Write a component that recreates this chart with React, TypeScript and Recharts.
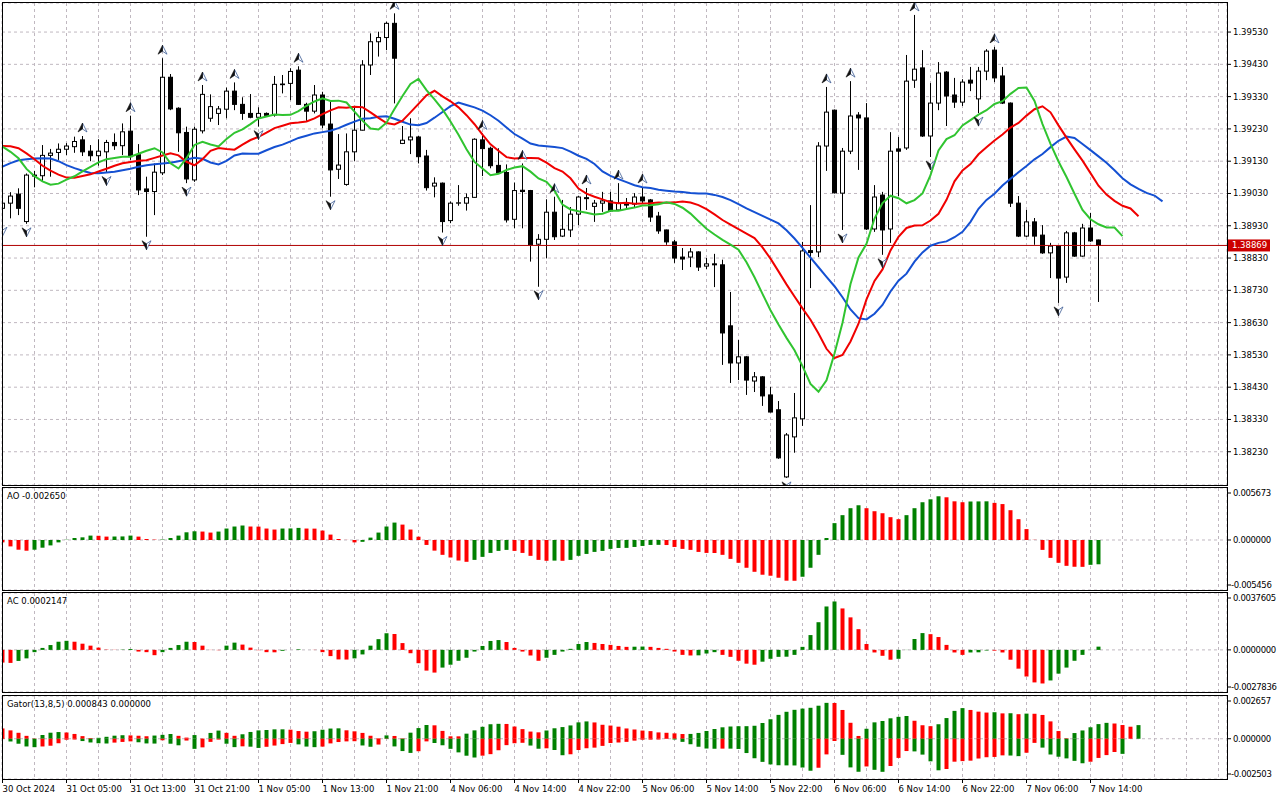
import { Bar, CartesianGrid, Cell, ComposedChart, Line, ReferenceLine, Scatter, XAxis, YAxis } from "recharts";

// H1 candles, bar 0 = 30 Oct 2024 21:00
const OPEN = [
  1.38984, 1.39, 1.39028, 1.38943, 1.39087, 1.39085, 1.39148, 1.39157, 1.39167, 1.39175,
  1.39196, 1.39161, 1.39147, 1.39159, 1.39188, 1.39178, 1.39223, 1.3915, 1.39044, 1.39036,
  1.39094, 1.3939, 1.39294, 1.39219, 1.39072, 1.39224, 1.39263, 1.39278, 1.39291, 1.39347,
  1.39306, 1.39278, 1.39266, 1.39278, 1.39273, 1.39369, 1.39371, 1.39412, 1.39306, 1.39285,
  1.39335, 1.39245, 1.39105, 1.39058, 1.39159, 1.39226, 1.39428, 1.395, 1.39513, 1.39557,
  1.39185, 1.39196, 1.39205, 1.39146, 1.39053, 1.39062, 1.38946, 1.39, 1.39, 1.39018,
  1.39196, 1.3917, 1.39117, 1.39095, 1.3895, 1.3904, 1.39039, 1.38873, 1.38888, 1.38972,
  1.38898, 1.38917, 1.38966, 1.39017, 1.3899, 1.39, 1.39007, 1.38979, 1.39, 1.38997,
  1.39019, 1.3901, 1.3896, 1.38917, 1.3888, 1.38833, 1.38833, 1.38849, 1.38805, 1.38812,
  1.38809, 1.3862, 1.38505, 1.38524, 1.38449, 1.38462, 1.38406, 1.3836, 1.38152, 1.38276,
  1.38332, 1.38853, 1.38849, 1.39177, 1.39288, 1.39031, 1.39161, 1.39273, 1.39264, 1.3892,
  1.39025, 1.3892, 1.39168, 1.39171, 1.39381, 1.39419, 1.39208, 1.3931, 1.39406, 1.39335,
  1.39313, 1.39381, 1.39323, 1.39409, 1.39474, 1.39394, 1.3931, 1.39, 1.38898, 1.38942,
  1.38901, 1.38846, 1.38867, 1.38771, 1.38908, 1.38836, 1.38923, 1.38886,
];
const HIGH = [
  1.3901, 1.39034, 1.39046, 1.39092, 1.391, 1.3918, 1.39168, 1.39185, 1.39186, 1.39206,
  1.39208, 1.3918, 1.39198, 1.39196, 1.39216, 1.39247, 1.39271, 1.39183, 1.39082, 1.39123,
  1.39449, 1.394, 1.39297, 1.39237, 1.39237, 1.39366, 1.39337, 1.39301, 1.39358, 1.39374,
  1.39328, 1.39338, 1.39297, 1.39281, 1.39394, 1.39397, 1.39418, 1.39424, 1.39311, 1.39366,
  1.39345, 1.39319, 1.39214, 1.39216, 1.393, 1.39443, 1.39526, 1.39531, 1.39562, 1.39588,
  1.39239, 1.39263, 1.39208, 1.39165, 1.3908, 1.39064, 1.39005, 1.39056, 1.3903, 1.39201,
  1.39216, 1.39175, 1.3917, 1.3912, 1.39064, 1.39123, 1.39041, 1.38904, 1.39012, 1.3902,
  1.3901, 1.38988, 1.39022, 1.39047, 1.3901, 1.39035, 1.39035, 1.39062, 1.39016, 1.39031,
  1.3905, 1.39013, 1.38973, 1.38918, 1.38886, 1.38861, 1.38861, 1.38851, 1.3883, 1.38843,
  1.38825, 1.38725, 1.38576, 1.38526, 1.38477, 1.38464, 1.38431, 1.38387, 1.38288, 1.38412,
  1.3888, 1.38994, 1.39189, 1.3936, 1.3929, 1.39171, 1.39378, 1.39282, 1.3931, 1.39056,
  1.39035, 1.3922, 1.39205, 1.39459, 1.39583, 1.39474, 1.39372, 1.39437, 1.39409, 1.39388,
  1.39384, 1.39422, 1.39422, 1.39477, 1.39484, 1.39422, 1.39312, 1.39022, 1.38979, 1.38954,
  1.38932, 1.38877, 1.38869, 1.38914, 1.38911, 1.38936, 1.3897, 1.38887,
];
const LOW = [
  1.38938, 1.38953, 1.38963, 1.38936, 1.39049, 1.39066, 1.39082, 1.39134, 1.39149, 1.39156,
  1.39146, 1.3913, 1.39116, 1.39095, 1.39165, 1.39149, 1.39134, 1.39025, 1.38896, 1.38963,
  1.39087, 1.39288, 1.39159, 1.39062, 1.39066, 1.39216, 1.39252, 1.39242, 1.39263, 1.39288,
  1.39258, 1.39263, 1.39237, 1.39268, 1.39268, 1.3934, 1.39319, 1.39304, 1.39255, 1.39278,
  1.39232, 1.3902, 1.39075, 1.39054, 1.39131, 1.39225, 1.39397, 1.39454, 1.39474, 1.39309,
  1.39183, 1.39152, 1.39123, 1.39039, 1.39018, 1.38909, 1.38938, 1.38992, 1.38977, 1.39017,
  1.39084, 1.39108, 1.39092, 1.3894, 1.38922, 1.38922, 1.38819, 1.38741, 1.38829, 1.38886,
  1.38895, 1.38895, 1.38932, 1.38979, 1.38942, 1.38973, 1.38973, 1.38976, 1.3898, 1.38988,
  1.39, 1.38942, 1.38905, 1.38871, 1.38815, 1.38793, 1.38802, 1.3879, 1.38796, 1.3874,
  1.38499, 1.38443, 1.38452, 1.38406, 1.38415, 1.38372, 1.38352, 1.38208, 1.38149, 1.38227,
  1.3831, 1.38737, 1.38833, 1.391, 1.3903, 1.38917, 1.39152, 1.39103, 1.38917, 1.38911,
  1.3884, 1.38877, 1.39022, 1.39165, 1.39357, 1.39205, 1.39143, 1.39288, 1.39239, 1.39295,
  1.39301, 1.39347, 1.39279, 1.39381, 1.39375, 1.39307, 1.38988, 1.38895, 1.38895, 1.38871,
  1.38843, 1.38768, 1.38691, 1.38753, 1.38834, 1.38834, 1.3888, 1.38694,
];
const CLOSE = [
  1.39, 1.39022, 1.38984, 1.39087, 1.39084, 1.39148, 1.39155, 1.39167, 1.39177, 1.39191,
  1.39159, 1.39147, 1.39161, 1.39188, 1.39178, 1.39221, 1.39144, 1.39041, 1.39036, 1.39096,
  1.3939, 1.39292, 1.39218, 1.39075, 1.39229, 1.39337, 1.39299, 1.39292, 1.39347, 1.39306,
  1.39278, 1.39266, 1.39278, 1.39272, 1.39368, 1.39367, 1.39408, 1.39306, 1.39285, 1.39335,
  1.39242, 1.39103, 1.39118, 1.39159, 1.39226, 1.39428, 1.395, 1.39513, 1.39557, 1.39449,
  1.39195, 1.39205, 1.39144, 1.39048, 1.39062, 1.38943, 1.39, 1.39001, 1.39017, 1.39198,
  1.39169, 1.39116, 1.39094, 1.38948, 1.39039, 1.39036, 1.38871, 1.38888, 1.38972, 1.38896,
  1.38919, 1.38966, 1.39019, 1.39014, 1.39, 1.39007, 1.38976, 1.39, 1.38994, 1.39019,
  1.39007, 1.38957, 1.38914, 1.3888, 1.3883, 1.38827, 1.38849, 1.38802, 1.38812, 1.38809,
  1.38598, 1.38505, 1.38524, 1.38452, 1.38462, 1.38403, 1.38353, 1.38211, 1.38282, 1.38335,
  1.38852, 1.38847, 1.39177, 1.39282, 1.39032, 1.39161, 1.3927, 1.39264, 1.3892, 1.39019,
  1.38917, 1.39161, 1.39161, 1.39378, 1.39415, 1.39208, 1.3931, 1.39403, 1.39332, 1.39313,
  1.39375, 1.39372, 1.39409, 1.39471, 1.39388, 1.3931, 1.39, 1.38898, 1.38942, 1.38898,
  1.38846, 1.38867, 1.38768, 1.38908, 1.38836, 1.38923, 1.38883, 1.38869,
];

// Awesome Oscillator, read per bar
const AO = [
  -0.00026, -0.0007, -0.00106, -0.00117, -0.00106, -0.00084, -0.00059, -0.00026, 0.00003, 0.00022,
  0.00029, 0.00048, 0.00046, 0.00037, 0.00038, 0.00039, 0.00048, 0.00037, 0.00011, 0.00004,
  0.00005, 0.00022, 0.00048, 0.00084, 0.00095, 0.00092, 0.00081, 0.00092, 0.00125, 0.00147,
  0.00158, 0.00147, 0.00146, 0.00125, 0.00114, 0.00125, 0.00126, 0.00132, 0.00125, 0.00124,
  0.00103, 0.00059, 0.00011, 0.00001, -0.00026, -0.0002, 0.00026, 0.00081, 0.00147, 0.0019,
  0.00168, 0.00114, 0.00036, -0.00054, -0.00116, -0.00162, -0.00191, -0.00224, -0.00238, -0.00217,
  -0.00184, -0.00141, -0.00119, -0.00108, -0.00119, -0.00141, -0.00173, -0.00217, -0.00227, -0.00225,
  -0.00227, -0.00217, -0.00173, -0.00152, -0.0013, -0.00119, -0.00097, -0.00087, -0.00086, -0.00076,
  -0.00065, -0.00054, -0.00053, -0.00055, -0.00076, -0.00097, -0.00108, -0.0013, -0.00141, -0.00142,
  -0.00162, -0.00206, -0.00249, -0.00303, -0.00347, -0.00379, -0.0039, -0.00412, -0.00444, -0.00445,
  -0.00401, -0.00303, -0.00162, 0.00022, 0.00184, 0.00271, 0.00347, 0.00379, 0.00347, 0.00314,
  0.00292, 0.00249, 0.00227, 0.00271, 0.00347, 0.00412, 0.00444, 0.00477, 0.00466, 0.00422,
  0.00412, 0.0042, 0.00421, 0.00422, 0.00405, 0.00392, 0.00325, 0.00227, 0.00119, 0.00002,
  -0.00108, -0.00195, -0.00249, -0.00282, -0.00292, -0.00293, -0.00271, -0.00265,
];

// Accelerator Oscillator, read per bar
const AC = [
  -0.00084, -0.00086, -0.00073, -0.00056, -0.00015, 0.00013, 0.00032, 0.00054, 0.0006, 0.00054,
  0.00041, 0.00028, 0.00015, 0.00002, 0.00001, 0.00002, 0.00006, -0.00011, -0.00015, -0.00035,
  -0.00015, 0.00013, 0.00032, 0.00054, 0.00052, 0.00028, -0.00001, -0.00002, 0.00028, 0.00048,
  0.00035, 0.00015, -0.00002, -0.00015, -0.00016, -0.00006, 0.0, 0.00004, 0.0, -0.00001,
  -0.00015, -0.00041, -0.00063, -0.00064, -0.00056, -0.0003, 0.00028, 0.00071, 0.0011, 0.00105,
  0.00045, -0.00022, -0.00088, -0.00137, -0.0015, -0.00117, -0.00098, -0.00072, -0.00052, -0.00011,
  0.00026, 0.00059, 0.00065, 0.00052, 0.00013, -0.00011, -0.00037, -0.00072, -0.00052, -0.00033,
  -0.00011, 0.00007, 0.00039, 0.00052, 0.00046, 0.00039, 0.00033, 0.00026, 0.0002, 0.00021,
  0.00022, 0.0002, 0.00013, 0.00007, -0.00011, -0.00033, -0.00037, -0.00036, -0.00024, -0.00015,
  -0.00033, -0.00046, -0.00072, -0.00091, -0.00098, -0.00078, -0.00059, -0.00046, -0.00045, -0.00033,
  0.0002, 0.00098, 0.00183, 0.00287, 0.0032, 0.00274, 0.00215, 0.00137, 0.00039, -0.00017,
  -0.00039, -0.00065, -0.00059, -0.00001, 0.00072, 0.00111, 0.00104, 0.00085, 0.00033, -0.00017,
  -0.00033, -0.00017, -0.00016, -0.00004, -0.00005, -0.00017, -0.00065, -0.00124, -0.00176, -0.00215,
  -0.00222, -0.00202, -0.00157, -0.00117, -0.00072, -0.00033, -0.00001, 0.0002147,
];

// Alligator values already on screen before bar 0 (jaw shift 8, teeth 5, lips 3)
const JAW_LEAD = [1.39113, 1.39124, 1.39133, 1.39136, 1.39138, 1.39139, 1.39138, 1.3913];
const TEETH_LEAD = [1.39177, 1.39176, 1.3917, 1.39154, 1.39136];
const LIPS_LEAD = [1.39175, 1.39159, 1.39139];

const TIME_LABELS = [
  "30 Oct 2024", "31 Oct 05:00", "31 Oct 13:00", "31 Oct 21:00", "1 Nov 05:00", "1 Nov 13:00",
  "1 Nov 21:00", "4 Nov 06:00", "4 Nov 14:00", "4 Nov 22:00", "5 Nov 06:00", "5 Nov 14:00",
  "5 Nov 22:00", "6 Nov 06:00", "6 Nov 14:00", "6 Nov 22:00", "7 Nov 06:00", "7 Nov 14:00",
];
const PRICE_TICKS = [
  1.3823, 1.3833, 1.3843, 1.3853, 1.3863, 1.3873, 1.3883, 1.3893, 1.3903, 1.3913, 1.3923, 1.3933, 1.3943, 1.3953,
];
const LAST_PRICE = 1.38869;
const AO_TICKS = [-0.005456, 0, 0.005673];
const AC_TICKS = [-0.0027836, 0, 0.0037605];
const GATOR_TICKS = [-0.002503, 0, 0.002657];

const FONT = "Tahoma, 'DejaVu Sans', sans-serif";
const FS = 8.5;
const GREEN = "#008000";
const RED = "#ff0000";
const GRID = "#c0b8c0";
const X_DOMAIN: [number, number] = [-0.0625, 153.0625];
const GRID_TICKS = Array.from({ length: 39 }, (_, k) => k * 4);

// --- indicators derived from the candles ---
const median = HIGH.map((h, i) => (h + LOW[i]) / 2);
function smma(period: number, seed: number) {
  let prev = seed;
  return median.map((m) => (prev = (prev * (period - 1) + m) / period));
}
const JAW = [...JAW_LEAD, ...smma(13, JAW_LEAD[JAW_LEAD.length - 1])];
const TEETH = [...TEETH_LEAD, ...smma(8, TEETH_LEAD[TEETH_LEAD.length - 1])];
const LIPS = [...LIPS_LEAD, ...smma(5, LIPS_LEAD[LIPS_LEAD.length - 1])];

function isFractal(arr: number[], i: number, better: (a: number, b: number) => boolean) {
  if (i > arr.length - 3) return false;
  for (const j of [i - 2, i - 1, i + 1, i + 2]) if (j >= 0 && !better(arr[i], arr[j])) return false;
  return true;
}
const UP_FRACTALS = HIGH.map((h, i) => ({ i, y: h })).filter((d) => isFractal(HIGH, d.i, (a, b) => a > b));
const DN_FRACTALS = LOW.map((l, i) => ({ i, y: l })).filter((d) => isFractal(LOW, d.i, (a, b) => a < b));

const mainRows = JAW.map((jaw, i) => ({
  i,
  range: i < OPEN.length ? [LOW[i], HIGH[i]] : undefined,
  o: OPEN[i],
  h: HIGH[i],
  l: LOW[i],
  c: CLOSE[i],
  jaw,
  teeth: TEETH[i],
  lips: LIPS[i],
}));

const rising = (arr: number[], i: number) => i > 0 && arr[i] > arr[i - 1];
const aoRows = AO.map((v, i) => ({ i, v, up: rising(AO, i) }));
const acRows = AC.map((v, i) => ({ i, v, up: rising(AC, i) }));

const gUp = TEETH.map((t, i) => Math.abs(JAW[i] - t));
const gDn = LIPS.map((l, i) => Math.abs(TEETH[i] - l));
const gatorRows = gUp.map((u, i) => ({
  i,
  up: u,
  dn: i < gDn.length ? -gDn[i] : undefined,
  upG: rising(gUp, i),
  dnG: i < gDn.length && rising(gDn, i),
}));

function Candle(props: any) {
  const { x, y, width, height, payload } = props;
  if (!payload || payload.range == null) return <g />;
  const cx = x + width / 2;
  const top = Math.min(y, y + height);
  const bot = Math.max(y, y + height);
  const span = payload.h - payload.l;
  const k = span > 0 ? (bot - top) / span : 0;
  const yo = top + (payload.h - payload.o) * k;
  const yc = top + (payload.h - payload.c) * k;
  const bull = payload.c >= payload.o;
  return (
    <g>
      <line x1={cx} x2={cx} y1={top} y2={bot} stroke="#000" />
      <rect
        x={cx - 2}
        y={Math.min(yo, yc)}
        width={4}
        height={Math.max(Math.abs(yc - yo), 0.01)}
        fill={bull ? "#fff" : "#000"}
        stroke="#000"
      />
    </g>
  );
}

/** Fractal arrow: dark left half, light right half with a bluish rim. */
function Arrow({ cx, tip, dir }: { cx: number; tip: number; dir: 1 | -1 }) {
  const b = tip + dir * 9;
  const n = tip + dir * 6;
  return (
    <g>
      <path d={`M${cx},${tip} L${cx + 4.5},${b} L${cx},${n} Z`} fill="#fff" stroke="#3c5c94" strokeWidth={0.8} />
      <path d={`M${cx},${tip} L${cx - 4.5},${b} L${cx},${n} Z`} fill="#101010" stroke="#101010" strokeWidth={0.6} />
    </g>
  );
}
const UpArrow = ({ cx, cy }: any) => <Arrow cx={cx} tip={cy - 13} dir={1} />;
const DownArrow = ({ cx, cy }: any) => <Arrow cx={cx} tip={cy + 13} dir={-1} />;

function PriceTag({ viewBox }: any) {
  if (!viewBox) return null;
  const x = viewBox.x + viewBox.width + 1;
  const y = viewBox.y;
  return (
    <g>
      <rect x={x} y={y - 6} width={42} height={12} fill="#cc0000" />
      <text x={x + 4} y={y} dy="0.35em" fill="#fff" fontSize={FS} fontFamily={FONT}>
        {LAST_PRICE.toFixed(5)}
      </text>
    </g>
  );
}

/** Right-axis label of a sub-window, pulled inside the frame at the edges. */
function subTick(plotH: number, digits: number) {
  return function SubTick({ x, y, payload }: any) {
    const yy = Math.min(Math.max(y, 5), plotH - 5);
    const v = Number(payload.value);
    return (
      <g>
        <line x1={x - 6} x2={x - 2} y1={yy} y2={yy} stroke="#000" />
        <text x={v < 0 ? x - 2 : x} y={yy} dy="0.35em" fontSize={FS} fontFamily={FONT} fill="#000" letterSpacing={-0.35}>
          {v.toFixed(digits)}
        </text>
      </g>
    );
  };
}

function TimeTick({ x, y, payload }: any) {
  const k = payload.value as number;
  if (k % 8 !== 0 || !TIME_LABELS[k / 8]) return <g />;
  return (
    <g>
      <line x1={x} x2={x} y1={y - 4} y2={y} stroke="#000" />
      <text x={x} y={y + 9} fontSize={FS} fontFamily={FONT} fill="#000">
        {TIME_LABELS[k / 8]}
      </text>
    </g>
  );
}

const hiddenX = (
  <XAxis type="number" dataKey="i" domain={X_DOMAIN} allowDataOverflow ticks={GRID_TICKS} interval={0} hide />
);
const grid = <CartesianGrid stroke={GRID} strokeDasharray="3 3" />;

function Frame({ top, height, title }: { top: number; height: number; title?: string }) {
  return (
    <div
      style={{
        position: "absolute",
        left: 2,
        top,
        width: 1226,
        height,
        border: "1px solid #000",
        boxSizing: "border-box",
        pointerEvents: "none",
      }}
    >
      {title && (
        <div style={{ position: "absolute", left: 4, top: 2, fontSize: FS, fontFamily: FONT, lineHeight: "12px" }}>
          {title}
        </div>
      )}
    </div>
  );
}

export default function App() {
  const sub = { top: 0, right: 0, bottom: 0, left: 2 };
  return (
    <div style={{ position: "absolute", left: 0, top: 0, width: 1280, height: 800, background: "#fff", overflow: "hidden" }}>
      <div style={{ position: "absolute", left: 0, top: 0 }}>
        <ComposedChart width={1280} height={487} data={mainRows} margin={{ top: 3, right: 0, bottom: 2, left: 2 }}>
          {grid}
          {hiddenX}
          <YAxis
            orientation="right"
            type="number"
            domain={[1.38127, 1.3962]}
            allowDataOverflow
            ticks={PRICE_TICKS}
            interval={0}
            width={53}
            axisLine={false}
            tickLine={{ stroke: "#000" }}
            tickSize={4}
            tickMargin={2}
            tick={{ fontSize: FS, fill: "#000", fontFamily: FONT }}
            tickFormatter={(v: number) => v.toFixed(5)}
          />
          <ReferenceLine y={LAST_PRICE} stroke="#b00000" ifOverflow="visible" label={(p: any) => <PriceTag {...p} />} />
          <Bar dataKey="range" barSize={6} shape={Candle} isAnimationActive={false} />
          <Line dataKey="jaw" stroke="#1450d2" strokeWidth={2} dot={false} isAnimationActive={false} />
          <Line dataKey="teeth" stroke="#f00000" strokeWidth={2} dot={false} isAnimationActive={false} />
          <Line dataKey="lips" stroke="#30c430" strokeWidth={2} dot={false} isAnimationActive={false} />
          <Scatter data={UP_FRACTALS} dataKey="y" shape={UpArrow} isAnimationActive={false} />
          <Scatter data={DN_FRACTALS} dataKey="y" shape={DownArrow} isAnimationActive={false} />
        </ComposedChart>
      </div>

      <div style={{ position: "absolute", left: 0, top: 488 }}>
        <ComposedChart width={1280} height={102} data={aoRows} margin={sub}>
          {grid}
          {hiddenX}
          <YAxis
            orientation="right"
            type="number"
            domain={[AO_TICKS[0], AO_TICKS[2]]}
            allowDataOverflow
            ticks={AO_TICKS}
            interval={0}
            width={53}
            axisLine={false}
            tickLine={false}
            tickSize={4}
            tickMargin={2}
            tick={subTick(102, 6)}
          />
          <Bar dataKey="v" barSize={4} isAnimationActive={false}>
            {aoRows.map((r) => (
              <Cell key={r.i} fill={r.up ? GREEN : RED} />
            ))}
          </Bar>
        </ComposedChart>
      </div>

      <div style={{ position: "absolute", left: 0, top: 593 }}>
        <ComposedChart width={1280} height={99} data={acRows} margin={sub}>
          {grid}
          {hiddenX}
          <YAxis
            orientation="right"
            type="number"
            domain={[AC_TICKS[0], AC_TICKS[2]]}
            allowDataOverflow
            ticks={AC_TICKS}
            interval={0}
            width={53}
            axisLine={false}
            tickLine={false}
            tickSize={4}
            tickMargin={2}
            tick={subTick(99, 7)}
          />
          <Bar dataKey="v" barSize={4} isAnimationActive={false}>
            {acRows.map((r) => (
              <Cell key={r.i} fill={r.up ? GREEN : RED} />
            ))}
          </Bar>
        </ComposedChart>
      </div>

      <div style={{ position: "absolute", left: 0, top: 696 }}>
        <ComposedChart width={1280} height={104} data={gatorRows} margin={sub} stackOffset="sign">
          {grid}
          <XAxis
            type="number"
            dataKey="i"
            domain={X_DOMAIN}
            allowDataOverflow
            ticks={GRID_TICKS}
            interval={0}
            height={21}
            axisLine={false}
            tickLine={false}
            tickSize={4}
            tickMargin={0}
            tick={<TimeTick />}
          />
          <YAxis
            orientation="right"
            type="number"
            domain={[GATOR_TICKS[0], GATOR_TICKS[2]]}
            allowDataOverflow
            ticks={GATOR_TICKS}
            interval={0}
            width={53}
            axisLine={false}
            tickLine={false}
            tickSize={4}
            tickMargin={2}
            tick={subTick(83, 6)}
          />
          <Bar dataKey="up" stackId="g" barSize={4} isAnimationActive={false}>
            {gatorRows.map((r) => (
              <Cell key={r.i} fill={r.upG ? GREEN : RED} />
            ))}
          </Bar>
          <Bar dataKey="dn" stackId="g" barSize={4} isAnimationActive={false}>
            {gatorRows.map((r) => (
              <Cell key={r.i} fill={r.dnG ? GREEN : RED} />
            ))}
          </Bar>
        </ComposedChart>
      </div>

      <Frame top={2} height={484} />
      <Frame top={487} height={104} title="AO -0.002650" />
      <Frame top={592} height={101} title="AC 0.0002147" />
      <Frame top={695} height={85} title="Gator(13,8,5) 0.000843 0.000000" />
    </div>
  );
}
